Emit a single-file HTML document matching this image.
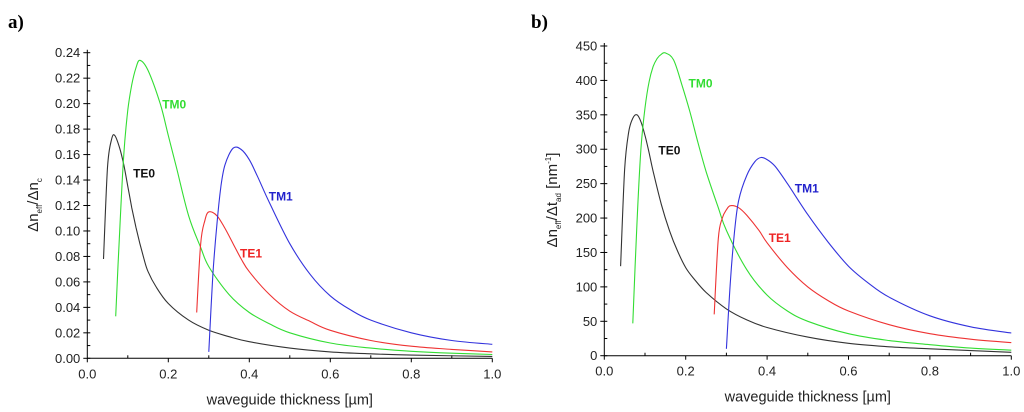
<!DOCTYPE html>
<html><head><meta charset="utf-8"><style>
html,body{margin:0;padding:0;background:#fff;}
svg{display:block;font-family:"Liberation Sans",Arial,sans-serif;}
</style></head><body>
<svg id="c" width="1024" height="412" viewBox="0 0 1024 412"></svg>
<script>
// Panel a data
const aTE0x=[0.04,0.05,0.06,0.068,0.08,0.09,0.1,0.11,0.12,0.13,0.14,0.15,0.17,0.2,0.25,0.3,0.35,0.4,0.5,0.6,0.7,0.8,1.0];
const aTE0y=[0.078,0.15,0.172,0.175,0.165,0.152,0.135,0.118,0.103,0.09,0.078,0.068,0.056,0.043,0.03,0.022,0.017,0.013,0.008,0.005,0.0035,0.0025,0.0015];
const aTM0x=[0.07,0.08,0.09,0.1,0.11,0.12,0.13,0.15,0.18,0.2,0.22,0.25,0.28,0.3,0.35,0.4,0.45,0.5,0.6,0.7,0.8,0.9,1.0];
const aTM0y=[0.033,0.1,0.16,0.195,0.215,0.228,0.234,0.226,0.2,0.175,0.15,0.112,0.087,0.072,0.05,0.036,0.027,0.02,0.012,0.008,0.0055,0.004,0.003];
const aTE1x=[0.27,0.28,0.29,0.3,0.32,0.34,0.36,0.38,0.4,0.45,0.5,0.55,0.6,0.7,0.8,0.9,1.0];
const aTE1y=[0.036,0.09,0.108,0.115,0.112,0.102,0.09,0.078,0.068,0.05,0.037,0.029,0.022,0.014,0.0095,0.007,0.005];
const aTM1x=[0.3,0.31,0.32,0.33,0.34,0.36,0.38,0.4,0.42,0.45,0.5,0.55,0.6,0.65,0.7,0.8,0.9,1.0];
const aTM1y=[0.005,0.065,0.105,0.135,0.152,0.165,0.164,0.156,0.143,0.122,0.09,0.066,0.049,0.038,0.03,0.02,0.014,0.011];
// Panel b data
const bTE0x=[0.04,0.05,0.06,0.07,0.08,0.09,0.1,0.11,0.12,0.14,0.16,0.18,0.2,0.22,0.25,0.3,0.35,0.4,0.5,0.6,0.7,0.8,1.0];
const bTE0y=[130,270,325,345,350,340,320,295,268,220,182,152,128,112,92,68,52,41,27,18,13,10,5];
const bTM0x=[0.07,0.08,0.09,0.1,0.11,0.12,0.13,0.14,0.15,0.17,0.19,0.21,0.23,0.25,0.28,0.3,0.35,0.4,0.45,0.5,0.6,0.7,0.8,0.9,1.0];
const bTM0y=[47,190,300,360,398,420,432,438,440,430,395,355,310,268,215,182,125,88,65,50,32,22,16,11,8];
const bTE1x=[0.27,0.28,0.29,0.3,0.31,0.33,0.35,0.38,0.4,0.45,0.5,0.55,0.6,0.7,0.8,0.9,1.0];
const bTE1y=[60,170,200,212,218,215,204,182,164,128,100,80,65,45,32,24,19];
const bTM1x=[0.3,0.31,0.32,0.33,0.35,0.37,0.385,0.4,0.42,0.45,0.5,0.55,0.6,0.65,0.7,0.8,0.9,1.0];
const bTM1y=[10,110,180,225,262,282,288,285,275,250,205,165,130,105,85,58,42,33];
const xTicks=["0.0","0.2","0.4","0.6","0.8","1.0"];
const aYTicks=["0.00","0.02","0.04","0.06","0.08","0.10","0.12","0.14","0.16","0.18","0.20","0.22","0.24"];
const bYTicks=["0","50","100","150","200","250","300","350","400","450"];

const svg=document.getElementById('c');
const NS='http://www.w3.org/2000/svg';
function mk(tag,attrs,parent){const e=document.createElementNS(NS,tag);for(const k in attrs)e.setAttribute(k,attrs[k]);(parent||svg).appendChild(e);return e;}
function txt(s,attrs,parent){const e=mk('text',attrs,parent);e.textContent=s;return e;}

function smooth(pts){
  let d='M'+pts[0][0].toFixed(1)+','+pts[0][1].toFixed(1);
  for(let i=0;i<pts.length-1;i++){
    const p0=pts[Math.max(0,i-1)],p1=pts[i],p2=pts[i+1],p3=pts[Math.min(pts.length-1,i+2)];
    const c1=[p1[0]+(p2[0]-p0[0])/6,p1[1]+(p2[1]-p0[1])/6];
    const c2=[p2[0]-(p3[0]-p1[0])/6,p2[1]-(p3[1]-p1[1])/6];
    d+=' C'+c1[0].toFixed(1)+','+c1[1].toFixed(1)+' '+c2[0].toFixed(1)+','+c2[1].toFixed(1)+' '+p2[0].toFixed(1)+','+p2[1].toFixed(1);
  }
  return d;
}

function panel(id,x0,x1,y0,y1,ymax,yTicks,minorStep,series,labels){
  const g=mk('g',{});
  
  
  const X=v=>x0+(x1-x0)*v;
  const Y=v=>y0-(y0-y1)*v/ymax;
  const ax=mk('path',{d:`M${x0},${y1-3} L${x0},${y0} L${x1},${y0}`,stroke:'#000','stroke-width':1,fill:'none'},g);
  
  
  const n=yTicks.length-1;
  for(let i=0;i<=n;i++){
    const v=ymax*i/n, y=Y(v);
    mk('line',{x1:x0,x2:x0-4,y1:y,y2:y,stroke:'#000'},g);
    const t=txt(yTicks[i],{x:x0-7,y:y+4.5,'text-anchor':'end','font-size':13,fill:'#222'},g);
    
    
  }
  for(let v=0;v<=ymax+1e-9;v+=minorStep){
    mk('line',{x1:x0,x2:x0+3,y1:Y(v),y2:Y(v),stroke:'#000'},g);
  }
  for(let i=0;i<=10;i++){
    const x=X(i/10);
    if(i%2===0){mk('line',{x1:x,x2:x,y1:y0,y2:y0+4,stroke:'#000'},g);
      const t=txt(xTicks[i/2],{x:x,y:y0+20,'text-anchor':'middle','font-size':13,fill:'#222'},g);
      
      
    } else mk('line',{x1:x,x2:x,y1:y0,y2:y0-3,stroke:'#000'},g);
  }
  const xt=txt('waveguide thickness [µm]',{x:(x0+x1)/2,y:y0+46,'text-anchor':'middle','font-size':14.5,fill:'#222'},g);
  
  
  for(const s of series){
    const pts=s.x.map((v,i)=>[X(v),Y(s.y[i])]);
    const p=mk('path',{d:smooth(pts),stroke:s.c,'stroke-width':1.1,fill:'none'},g);
    
    
  }
  for(const l of labels){
    const t=txt(l.t,{x:X(l.x),y:Y(l.y),'font-size':12,'font-weight':'bold',fill:l.c},g);
    
    
  }
  return g;
}

panel('panel-a',87.3,492.3,358.3,52.7,0.24,aYTicks,0.01,[
 {name:'line-te0',x:aTE0x,y:aTE0y,c:'#333'},
 {name:'line-tm0',x:aTM0x,y:aTM0y,c:'#33dd33'},
 {name:'line-te1',x:aTE1x,y:aTE1y,c:'#ee3333'},
 {name:'line-tm1',x:aTM1x,y:aTM1y,c:'#3333dd'}],
 [{t:'TM0',x:0.185,y:0.196,c:'#33dd33'},{t:'TE0',x:0.113,y:0.142,c:'#111'},
  {t:'TM1',x:0.448,y:0.124,c:'#2222cc'},{t:'TE1',x:0.377,y:0.079,c:'#ee2222'}]);

panel('panel-b',604.3,1011.3,355.7,46,450,bYTicks,25,[
 {name:'line-te0',x:bTE0x,y:bTE0y,c:'#333'},
 {name:'line-tm0',x:bTM0x,y:bTM0y,c:'#33dd33'},
 {name:'line-te1',x:bTE1x,y:bTE1y,c:'#ee3333'},
 {name:'line-tm1',x:bTM1x,y:bTM1y,c:'#3333dd'}],
 [{t:'TM0',x:0.207,y:390,c:'#33dd33'},{t:'TE0',x:0.133,y:292,c:'#111'},
  {t:'TM1',x:0.468,y:237,c:'#2222cc'},{t:'TE1',x:0.404,y:165,c:'#ee2222'}]);

let t=txt('a)',{x:8,y:28,'font-size':19,'font-weight':'bold','font-family':'Liberation Serif,serif'});


t=txt('b)',{x:531,y:28,'font-size':19,'font-weight':'bold','font-family':'Liberation Serif,serif'});



let ya=mk('text',{transform:'translate(38,205) rotate(-90)','text-anchor':'middle','font-size':15,fill:'#222'});
ya.innerHTML='Δn<tspan font-size="8" dy="4">eff</tspan><tspan dy="-4">/Δn</tspan><tspan font-size="8" dy="4">c</tspan>';


let yb=mk('text',{transform:'translate(557,200) rotate(-90)','text-anchor':'middle','font-size':15,fill:'#222'});
yb.innerHTML='Δn<tspan font-size="8" dy="4">eff</tspan><tspan dy="-4">/Δt</tspan><tspan font-size="8" dy="4">ad</tspan><tspan dy="-4"> [nm</tspan><tspan font-size="8" dy="-6">-1</tspan><tspan dy="6">]</tspan>';


</script>
</body></html>
